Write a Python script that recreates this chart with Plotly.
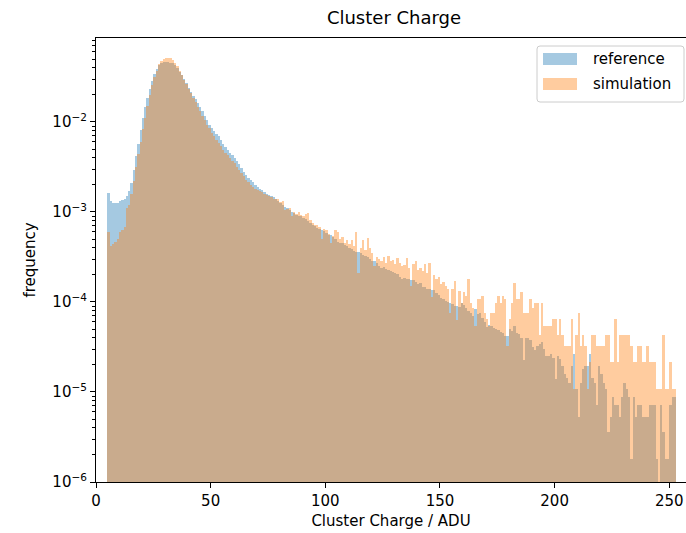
import plotly.graph_objects as go

# Integer-wide charge bins: left edges 5 .. 252, right edge 253
BIN_LO = 5
BIN_HI = 253

# Normalised histogram heights (frequency per ADU) for each bin
ref_freq = [
    1.62e-3, 1.32e-3, 1.26e-3, 1.26e-3, 1.26e-3, 1.32e-3, 1.35e-3, 1.41e-3, 1.51e-3, 1.70e-3,
    2.09e-3, 2.95e-3, 4.17e-3, 5.75e-3, 8.13e-3, 1.10e-2, 1.45e-2, 1.86e-2, 2.34e-2, 2.88e-2,
    3.39e-2, 3.89e-2, 4.27e-2, 4.52e-2, 4.62e-2, 4.65e-2, 4.62e-2, 4.57e-2, 4.47e-2, 4.27e-2,
    3.98e-2, 3.63e-2, 3.31e-2, 3.02e-2, 2.69e-2, 2.40e-2, 2.14e-2, 1.95e-2, 1.78e-2, 1.62e-2,
    1.48e-2, 1.32e-2, 1.17e-2, 1.05e-2, 9.33e-3, 8.51e-3, 7.94e-3, 7.41e-3, 6.92e-3, 6.31e-3,
    5.75e-3, 5.25e-3, 4.90e-3, 4.57e-3, 4.27e-3, 3.98e-3, 3.72e-3, 3.39e-3, 3.09e-3, 2.75e-3,
    2.57e-3, 2.40e-3, 2.29e-3, 2.14e-3, 2.00e-3, 1.91e-3, 1.82e-3, 1.74e-3, 1.66e-3, 1.58e-3,
    1.55e-3, 1.51e-3, 1.45e-3, 1.38e-3, 1.32e-3, 1.26e-3, 1.20e-3, 1.15e-3, 1.10e-3, 1.05e-3,
    1.00e-3, 9.77e-4, 9.33e-4, 9.12e-4, 8.91e-4, 8.51e-4, 8.32e-4, 7.94e-4, 7.59e-4, 7.08e-4,
    6.92e-4, 6.61e-4, 6.46e-4, 6.31e-4, 6.17e-4, 5.89e-4, 5.62e-4, 5.50e-4, 5.25e-4, 5.01e-4,
    4.68e-4, 4.57e-4, 4.47e-4, 4.27e-4, 4.17e-4, 3.98e-4, 3.89e-4, 3.72e-4, 3.63e-4, 3.55e-4,
    3.47e-4, 3.31e-4, 3.24e-4, 3.16e-4, 3.02e-4, 2.88e-4, 2.82e-4, 2.69e-4, 2.51e-4, 2.40e-4,
    2.45e-4, 2.34e-4, 2.24e-4, 2.19e-4, 2.14e-4, 2.09e-4, 2.04e-4, 1.91e-4, 1.82e-4, 1.86e-4,
    1.82e-4, 1.78e-4, 1.74e-4, 1.74e-4, 1.66e-4, 1.58e-4, 1.62e-4, 1.48e-4, 1.45e-4, 1.38e-4,
    1.41e-4, 1.35e-4, 1.35e-4, 1.26e-4, 1.20e-4, 1.12e-4, 1.07e-4, 1.02e-4, 1.00e-4, 9.77e-5,
    9.55e-5, 9.12e-5, 9.12e-5, 8.91e-5, 9.77e-5, 9.33e-5, 8.51e-5, 7.94e-5, 7.59e-5, 6.92e-5,
    8.32e-5, 7.41e-5, 7.59e-5, 6.61e-5, 6.03e-5, 5.25e-5, 5.62e-5, 5.37e-5, 5.13e-5, 5.01e-5,
    4.90e-5, 4.68e-5, 4.47e-5, 4.17e-5, 4.17e-5, 5.01e-5, 4.79e-5, 5.37e-5, 4.57e-5, 4.37e-5,
    3.98e-5, 2.29e-5, 3.98e-5, 3.98e-5, 3.80e-5, 3.16e-5, 2.95e-5, 3.24e-5, 3.39e-5, 3.55e-5,
    3.02e-5, 2.51e-5, 2.51e-5, 2.63e-5, 2.40e-5, 1.38e-5,
    2.49e-5, 2.31e-5, 1.96e-5, 1.60e-5, 1.42e-5, 1.25e-5, 1.96e-5, 2.67e-5, 1.07e-5, 5.34e-6,
    1.25e-5, 1.78e-5, 1.96e-5, 1.96e-5, 2.67e-5, 1.42e-5, 1.25e-5, 7.12e-6, 1.96e-5, 1.60e-5,
    1.25e-5, 1.07e-5, 3.56e-6, 5.34e-6, 8.90e-6, 7.12e-6, 7.12e-6, 5.34e-6, 8.90e-6, 1.25e-5,
    1.07e-5, 8.90e-6, 1.78e-6, 8.90e-6, 5.34e-6, 7.12e-6, 7.12e-6, 5.34e-6, 5.34e-6, 5.34e-6,
    7.12e-6, 7.12e-6, 7.12e-6, 1.78e-6, 0.0, 7.12e-6, 3.56e-6, 1.78e-6, 1.78e-6, 7.12e-6,
    8.90e-6, 8.90e-6,
]

sim_freq = [
    6.03e-4, 4.17e-4, 4.37e-4, 4.68e-4, 5.01e-4, 6.03e-4, 6.31e-4, 6.76e-4, 1.10e-3, 1.20e-3,
    1.58e-3, 2.19e-3, 3.16e-3, 4.37e-3, 6.03e-3, 8.32e-3, 1.12e-2, 1.51e-2, 2.00e-2, 2.57e-2,
    3.16e-2, 3.72e-2, 4.37e-2, 4.79e-2, 5.01e-2, 5.19e-2, 5.19e-2, 5.13e-2, 4.90e-2, 4.57e-2,
    4.17e-2, 3.72e-2, 3.31e-2, 2.95e-2, 2.63e-2, 2.34e-2, 2.09e-2, 1.86e-2, 1.66e-2, 1.48e-2,
    1.32e-2, 1.17e-2, 1.05e-2, 9.33e-3, 8.51e-3, 7.59e-3, 6.92e-3, 6.31e-3, 5.89e-3, 5.37e-3,
    4.90e-3, 4.57e-3, 4.27e-3, 3.98e-3, 3.72e-3, 3.47e-3, 3.16e-3, 2.95e-3, 2.69e-3, 2.51e-3,
    2.29e-3, 2.14e-3, 2.00e-3, 1.91e-3, 1.82e-3, 1.74e-3, 1.70e-3, 1.66e-3, 1.58e-3, 1.55e-3,
    1.51e-3, 1.45e-3, 1.41e-3, 1.38e-3, 1.38e-3, 1.29e-3, 1.32e-3, 1.05e-3, 1.07e-3, 1.10e-3,
    8.91e-4, 1.00e-3, 9.55e-4, 1.00e-3, 9.33e-4, 9.12e-4, 9.55e-4, 9.77e-4, 8.13e-4, 7.59e-4,
    7.08e-4, 7.24e-4, 6.76e-4, 5.01e-4, 6.46e-4, 6.31e-4, 5.75e-4, 4.47e-4, 5.37e-4, 6.31e-4,
    6.03e-4, 5.01e-4, 5.25e-4, 4.57e-4, 4.90e-4, 4.37e-4, 4.90e-4, 4.17e-4, 6.03e-4, 2.09e-4,
    3.98e-4, 4.90e-4, 3.80e-4, 5.13e-4, 3.98e-4, 3.47e-4, 2.51e-4, 3.16e-4, 3.02e-4, 2.82e-4,
    3.16e-4, 2.69e-4, 3.24e-4, 2.82e-4, 2.95e-4, 2.63e-4, 3.09e-4, 2.69e-4, 2.51e-4, 2.57e-4,
    3.09e-4, 2.40e-4, 1.51e-4, 2.63e-4, 2.82e-4, 2.29e-4, 2.40e-4, 2.19e-4, 2.63e-4, 2.09e-4,
    2.69e-4, 1.15e-4, 2.00e-4, 1.78e-4, 1.91e-4, 1.58e-4, 1.66e-4, 1.51e-4, 1.41e-4, 7.59e-5,
    1.38e-4, 1.70e-4, 6.31e-5, 1.32e-4,
    9.63e-5, 1.28e-4, 1.18e-4, 1.82e-4, 9.63e-5, 8.56e-5, 5.35e-5, 1.07e-4, 1.07e-4, 1.18e-4,
    7.49e-5, 6.42e-5, 5.35e-5, 7.49e-5, 7.49e-5, 9.63e-5, 1.18e-4, 9.63e-5, 1.18e-4, 1.07e-4,
    3.21e-5, 6.42e-5, 9.63e-5, 1.61e-4, 1.07e-4, 1.07e-4, 1.28e-4, 7.49e-5, 7.49e-5, 7.49e-5,
    1.07e-4, 8.56e-5, 9.63e-5, 9.63e-5, 4.28e-5, 9.63e-5, 5.35e-5, 5.35e-5, 5.35e-5, 5.35e-5,
    6.42e-5, 6.42e-5,
    4.28e-5, 6.42e-5, 4.28e-5, 3.21e-5, 3.21e-5, 3.21e-5, 6.42e-5, 1.07e-5, 4.28e-5, 7.49e-5,
    3.21e-5, 4.28e-5, 3.21e-5, 1.07e-5, 2.14e-5, 4.28e-5, 4.28e-5, 3.21e-5, 3.21e-5, 3.21e-5,
    3.21e-5, 4.28e-5, 4.28e-5, 2.14e-5, 2.14e-5, 6.42e-5, 2.14e-5, 4.28e-5, 4.28e-5, 4.28e-5,
    4.28e-5, 4.28e-5, 3.21e-5, 2.14e-5, 2.14e-5, 3.21e-5, 3.21e-5, 2.14e-5, 2.14e-5, 3.21e-5,
    2.14e-5, 2.14e-5, 2.14e-5, 1.07e-5, 1.07e-5, 1.07e-5, 4.28e-5, 1.07e-5, 1.07e-5, 2.14e-5,
    1.07e-5, 1.07e-5,
]

series_names = ["reference", "simulation"]
series_colors = ["rgba(31,119,180,0.4)", "rgba(255,127,14,0.4)"]

x_ticks = [0, 50, 100, 150, 200, 250]
y_ticks = [1e-6, 1e-5, 1e-4, 1e-3, 1e-2]
y_tick_text = ["10<sup>\u22126</sup>", "10<sup>\u22125</sup>", "10<sup>\u22124</sup>",
               "10<sup>\u22123</sup>", "10<sup>\u22122</sup>"]
y_minor = [m * 10.0 ** e for e in range(-6, -1) for m in range(2, 10)]

n_bins = BIN_HI - BIN_LO
assert len(ref_freq) == n_bins and len(sim_freq) == n_bins
centers = [BIN_LO + i + 0.5 for i in range(n_bins)]

fig = go.Figure()
for name, vals, col in zip(series_names, [ref_freq, sim_freq], series_colors):
    fig.add_trace(go.Bar(
        x=centers, y=vals, width=1.0, name=name,
        marker=dict(color=col, line=dict(width=0)),
    ))

FONT = "DejaVu Sans"
axis_common = dict(
    showline=True, linecolor="black", linewidth=1.1,
    ticks="outside", ticklen=5, tickwidth=1.1, tickcolor="black",
    showgrid=False, zeroline=False,
    tickfont=dict(family=FONT, size=15, color="black"),
)

fig.update_layout(
    width=686, height=533,
    margin=dict(l=96, r=0, t=38, b=51, pad=0),
    paper_bgcolor="white", plot_bgcolor="white",
    barmode="overlay", bargap=0,
    showlegend=False,
    font=dict(family=FONT, size=15, color="black"),
    title=dict(text="Cluster Charge", x=(394 / 686), xanchor="center",
               y=1 - 18 / 533, yanchor="middle", yref="container",
               font=dict(family=FONT, size=18, color="black")),
    xaxis=dict(range=[0, 257.3], tickvals=x_ticks, mirror=True,
               title=dict(text="Cluster Charge / ADU", standoff=6,
                          font=dict(family=FONT, size=15, color="black")),
               **axis_common),
    yaxis=dict(type="log", range=[-6, -1.067], tickvals=y_ticks, ticktext=y_tick_text,
               minor=dict(tickvals=y_minor, ticks="outside", ticklen=3, tickwidth=0.8,
                          tickcolor="black", showgrid=False),
               title=dict(text="frequency", standoff=13,
                          font=dict(family=FONT, size=15, color="black")),
               **axis_common),
)

# Legend box drawn in the upper-right corner of the axes
def px_to_paper(px, py):
    return (px - 96) / 590, (482 - py) / 444


def rounded_box(x0, y0, x1, y1, r):
    # x/y in pixels of the page; returns an SVG path in paper units
    pts = []
    sx, sy = 1 / 590, 1 / 444
    X = lambda v: (v - 96) * sx
    Y = lambda v: (482 - v) * sy
    return (f"M {X(x0 + r)} {Y(y0)} L {X(x1 - r)} {Y(y0)} "
            f"Q {X(x1)} {Y(y0)} {X(x1)} {Y(y0 + r)} L {X(x1)} {Y(y1 - r)} "
            f"Q {X(x1)} {Y(y1)} {X(x1 - r)} {Y(y1)} L {X(x0 + r)} {Y(y1)} "
            f"Q {X(x0)} {Y(y1)} {X(x0)} {Y(y1 - r)} L {X(x0)} {Y(y0 + r)} "
            f"Q {X(x0)} {Y(y0)} {X(x0 + r)} {Y(y0)} Z")


fig.add_shape(type="path", xref="paper", yref="paper", path=rounded_box(537, 46, 684, 102, 3),
              line=dict(color="#cccccc", width=1), fillcolor="rgba(255,255,255,0.8)", layer="above")
for i, (name, col) in enumerate(zip(series_names, series_colors)):
    top = 53 + 25 * i
    px0, py0 = px_to_paper(543, top)
    px1, py1 = px_to_paper(577, top + 12)
    fig.add_shape(type="rect", xref="paper", yref="paper", x0=px0, y0=py1, x1=px1, y1=py0,
                  line=dict(width=0), fillcolor=col, layer="above")
    tx, ty = px_to_paper(591, top + 6)
    fig.add_annotation(xref="paper", yref="paper", x=tx, y=ty, text=name, showarrow=False,
                       xanchor="left", yanchor="middle",
                       font=dict(family=FONT, size=15, color="black"))

fig.write_html("out.html")
